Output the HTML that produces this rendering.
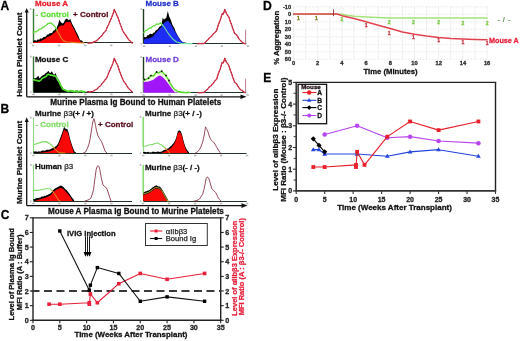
<!DOCTYPE html>
<html><head><meta charset="utf-8"><style>
html,body{margin:0;padding:0;background:#fff;}
body{width:520px;height:341px;overflow:hidden;}
svg{display:block;font-family:"Liberation Sans", sans-serif;will-change:transform;filter:blur(0.25px);}
</style></head><body>
<svg width="520" height="341" viewBox="0 0 520 341">
<rect width="520" height="341" fill="#fff"/>
<text x="0.60" y="9.80" font-size="12.00" fill="#000" font-weight="bold" text-anchor="start" stroke="#000" stroke-width="0.28" >A</text>
<line x1="26.70" y1="12.00" x2="26.70" y2="96.80" stroke="#111" stroke-width="1.30" />
<polygon points="26.7,8.00 24.7,12.60 28.7,12.60" fill="#111"/>
<line x1="26.70" y1="96.80" x2="241.50" y2="96.80" stroke="#111" stroke-width="1.30" />
<polygon points="246.50,96.80 240.50,94.50 240.50,99.10" fill="#111"/>
<text transform="translate(22.00,54.70) rotate(-90)" font-size="8.12" fill="#111" font-weight="bold" text-anchor="middle" stroke="#111" stroke-width="0.28" >Human Platelet Count</text>
<text x="135.75" y="104.70" font-size="8.17" fill="#111" font-weight="bold" text-anchor="middle" stroke="#111" stroke-width="0.28" >Murine Plasma Ig Bound to Human Platelets</text>
<line x1="33.50" y1="8.80" x2="33.50" y2="42.50" stroke="#3a7a34" stroke-width="1.40" />
<line x1="33.50" y1="42.50" x2="133.10" y2="42.50" stroke="#23352a" stroke-width="1.00" />
<rect x="32.00" y="44.60" width="2.4" height="1.6" fill="#b8b8b8"/>
<rect x="58.00" y="44.60" width="2.4" height="1.6" fill="#b8b8b8"/>
<rect x="84.00" y="44.60" width="2.4" height="1.6" fill="#b8b8b8"/>
<rect x="110.00" y="44.60" width="2.4" height="1.6" fill="#b8b8b8"/>
<rect x="29.80" y="8.20" width="1.6" height="1.6" fill="#b0b0b0"/>
<rect x="29.80" y="42.40" width="1.6" height="1.2" fill="#b0b0b0"/>
<polygon points="33.20,43.00 33.20,41.00 34.12,40.53 35.05,40.07 35.98,40.82 36.90,40.40 37.82,39.29 38.74,39.78 39.66,39.14 40.58,38.24 41.50,38.70 42.67,38.11 43.83,36.67 45.00,36.90 46.17,36.01 47.33,34.59 48.50,34.60 49.43,33.30 50.37,33.33 51.30,32.90 52.27,32.72 53.23,30.69 54.20,30.60 55.35,28.95 56.50,28.30 58.30,23.70 59.40,19.60 60.30,21.28 61.20,22.50 62.35,23.61 63.50,23.10 65.20,19.60 66.90,18.50 68.70,20.20 70.40,19.00 72.10,23.70 73.25,25.84 74.40,27.70 76.20,31.70 77.35,33.81 78.50,36.30 79.65,39.21 80.80,40.40 81.95,40.43 83.10,42.10 84.07,42.88 85.03,41.99 86.00,42.50 86.00,43.00" fill="#000" />
<polygon points="33.20,43.00 33.20,42.60 34.12,42.14 35.05,42.02 35.98,42.11 36.90,42.20 37.82,42.22 38.74,41.28 39.66,41.38 40.58,41.14 41.50,40.70 42.67,40.01 43.83,39.61 45.00,39.00 46.17,37.83 47.33,37.09 48.50,36.80 49.43,35.97 50.37,35.91 51.30,35.20 52.27,34.39 53.23,33.55 54.20,33.00 55.35,31.84 56.50,30.50 58.30,27.50 59.40,26.30 60.30,25.90 61.20,25.60 62.35,25.35 63.50,25.50 65.20,23.00 66.90,21.50 68.70,22.30 70.40,22.00 72.10,26.00 73.25,28.29 74.40,30.00 76.20,34.00 77.35,36.45 78.50,38.50 79.65,39.99 80.80,42.00 82.50,43.00 82.50,43.00" fill="#fa0808" />
<polyline points="33.20,32.20 34.12,32.03 35.05,31.69 35.98,31.90 36.90,31.10 38.07,30.65 39.23,29.27 40.40,28.80 41.53,28.87 42.67,27.07 43.80,27.00 44.97,25.95 46.13,25.49 47.30,24.20 48.27,23.31 49.23,23.38 50.20,23.00 51.35,22.95 52.50,24.20 54.20,25.90 56.00,28.20 57.20,30.50" fill="none" stroke="#62dd3a" stroke-width="1.30" stroke-linejoin="round" stroke-linecap="round" />
<polyline points="57.20,30.50 57.70,31.70 59.40,34.50 61.20,38.00 63.50,40.90 66.90,42.00 76.20,42.60 84.00,42.80" fill="none" stroke="#e0801e" stroke-width="1.20" stroke-linejoin="round" stroke-linecap="round" />
<polyline points="88.00,43.00 89.00,43.10 90.00,43.14 91.00,42.92 92.00,42.80 92.94,42.70 93.88,41.75 94.82,41.66 95.76,41.12 96.70,40.60 97.90,39.51 99.10,38.23 100.30,37.10 101.27,36.24 102.23,35.17 103.20,33.60 104.17,32.41 105.13,31.41 106.10,30.10 107.30,27.05 108.50,24.80 110.20,20.70 112.00,16.60 113.20,13.60 114.30,9.50 116.10,13.60 117.00,15.58 117.90,17.20 119.60,22.40 120.50,24.88 121.40,27.10 122.55,30.19 123.70,32.40 125.50,34.80 127.30,37.70 128.45,39.44 129.60,40.60 130.80,41.61 132.00,43.00" fill="none" stroke="#e03a4c" stroke-width="1.30" stroke-linejoin="round" stroke-linecap="round" />
<polyline points="88.00,43.00 89.00,43.10 90.00,43.14 91.00,42.92 92.00,42.80 92.94,42.70 93.88,41.75 94.82,41.66 95.76,41.12 96.70,40.60 97.90,39.51 99.10,38.23 100.30,37.10 101.27,36.24 102.23,35.17 103.20,33.60 104.17,32.41 105.13,31.41 106.10,30.10 107.30,27.05 108.50,24.80 110.20,20.70 112.00,16.60 113.20,13.60 114.30,9.50 116.10,13.60 117.00,15.58 117.90,17.20 119.60,22.40 120.50,24.88 121.40,27.10 122.55,30.19 123.70,32.40 125.50,34.80 127.30,37.70 128.45,39.44 129.60,40.60 130.80,41.61 132.00,43.00" fill="none" stroke="#a0203e" stroke-width="0.90" stroke-linejoin="round" stroke-linecap="round" stroke-dasharray="1,2.2"/>
<text x="35.00" y="6.40" font-size="8.00" fill="#e8202a" font-weight="bold" text-anchor="start" stroke="#e8202a" stroke-width="0.28" >Mouse A</text>
<text x="35.50" y="17.00" font-size="8.00" fill="#62dd3a" font-weight="bold" text-anchor="start" stroke="#62dd3a" stroke-width="0.28" >- Control</text>
<text x="73.10" y="17.00" font-size="8.00" fill="#5a0f1e" font-weight="bold" text-anchor="start" stroke="#5a0f1e" stroke-width="0.28" >+ Control</text>
<line x1="143.50" y1="9.00" x2="143.50" y2="43.50" stroke="#1e3e1e" stroke-width="1.40" />
<line x1="143.50" y1="43.50" x2="246.20" y2="43.50" stroke="#23352a" stroke-width="1.00" />
<rect x="142.70" y="45.40" width="2.4" height="1.6" fill="#b8b8b8"/>
<rect x="168.70" y="45.40" width="2.4" height="1.6" fill="#b8b8b8"/>
<rect x="194.70" y="45.40" width="2.4" height="1.6" fill="#b8b8b8"/>
<rect x="220.70" y="45.40" width="2.4" height="1.6" fill="#b8b8b8"/>
<rect x="246.70" y="45.40" width="2.4" height="1.6" fill="#b8b8b8"/>
<rect x="140.50" y="8.40" width="1.6" height="1.6" fill="#b0b0b0"/>
<rect x="140.50" y="43.20" width="1.6" height="1.2" fill="#b0b0b0"/>
<polygon points="143.90,43.80 143.90,37.60 144.83,37.06 145.77,37.24 146.70,36.60 147.67,35.04 148.65,35.13 149.62,33.90 150.60,33.80 152.20,34.30 153.35,32.76 154.50,32.60 155.60,30.46 156.70,29.90 157.80,29.23 158.90,27.60 160.05,26.13 161.20,26.00 162.80,17.60 163.90,19.80 165.05,18.55 166.20,18.20 167.80,10.90 169.20,16.50 170.20,18.55 171.20,21.00 172.30,24.42 173.40,26.50 174.50,28.25 175.60,31.50 176.75,33.66 177.90,36.00 179.00,37.74 180.10,39.30 181.03,40.92 181.97,41.74 182.90,42.10 183.88,43.03 184.85,42.25 185.83,42.77 186.80,43.20 187.87,43.01 188.93,43.80 190.00,43.40 190.00,43.80" fill="#000" />
<polygon points="143.90,43.80 143.90,39.20 144.90,39.54 145.90,38.61 146.90,38.52 147.90,38.45 148.90,38.60 149.80,37.89 150.70,37.70 151.60,37.37 152.50,36.60 153.40,36.40 154.50,34.44 155.60,33.39 156.70,32.00 157.80,30.74 158.90,29.80 160.00,28.60 160.93,27.75 161.87,26.19 162.80,24.70 163.90,23.32 165.00,21.90 165.93,21.65 166.87,21.34 167.80,20.80 168.73,21.29 169.67,23.07 170.60,23.60 171.53,25.55 172.47,27.31 173.40,28.60 174.50,30.93 175.60,32.56 176.70,34.70 177.63,36.10 178.57,37.30 179.50,39.20 180.43,40.27 181.37,40.63 182.30,42.00 183.40,42.37 184.50,43.60 184.50,43.80" fill="#1e2cf6" />
<polyline points="143.90,32.50 144.83,31.36 145.77,30.56 146.70,30.30 147.80,29.50 148.90,28.52 150.00,27.88 151.10,28.00 152.23,26.78 153.37,25.98 154.50,25.80 155.60,25.04 156.70,24.00 157.80,24.10 158.73,24.26 159.67,23.53 160.60,23.00 162.30,24.70" fill="none" stroke="#62dd3a" stroke-width="1.30" stroke-linejoin="round" stroke-linecap="round" />
<polyline points="162.30,24.70 164.50,27.50 167.30,32.00 170.10,35.80 172.90,39.20 176.70,42.00 181.20,43.40 192.00,43.60" fill="none" stroke="#6ee0a0" stroke-width="1.10" stroke-linejoin="round" stroke-linecap="round" />
<polyline points="198.00,43.80 198.90,43.47 199.80,43.54 200.70,43.61 201.60,43.61 202.50,43.38 203.40,43.70 204.36,43.17 205.32,42.46 206.28,41.15 207.24,40.33 208.20,39.50 209.10,38.23 210.00,37.34 210.90,36.66 211.80,35.90 213.05,34.19 214.30,32.90 215.50,32.00 216.70,30.50 217.60,27.20 218.50,24.50 219.40,21.92 220.30,20.20 222.10,13.60 223.30,14.20 224.80,9.40 226.50,13.60 227.60,15.51 228.70,16.60 229.60,19.33 230.50,22.00 231.70,25.03 232.90,28.70 234.70,33.50 235.60,34.14 236.50,34.70 237.70,36.37 238.90,38.90 240.10,40.13 241.30,41.30 242.50,42.63 243.70,43.10 245.20,43.80" fill="none" stroke="#e03a4c" stroke-width="1.30" stroke-linejoin="round" stroke-linecap="round" />
<polyline points="198.00,43.80 198.90,43.47 199.80,43.54 200.70,43.61 201.60,43.61 202.50,43.38 203.40,43.70 204.36,43.17 205.32,42.46 206.28,41.15 207.24,40.33 208.20,39.50 209.10,38.23 210.00,37.34 210.90,36.66 211.80,35.90 213.05,34.19 214.30,32.90 215.50,32.00 216.70,30.50 217.60,27.20 218.50,24.50 219.40,21.92 220.30,20.20 222.10,13.60 223.30,14.20 224.80,9.40 226.50,13.60 227.60,15.51 228.70,16.60 229.60,19.33 230.50,22.00 231.70,25.03 232.90,28.70 234.70,33.50 235.60,34.14 236.50,34.70 237.70,36.37 238.90,38.90 240.10,40.13 241.30,41.30 242.50,42.63 243.70,43.10 245.20,43.80" fill="none" stroke="#a0203e" stroke-width="0.90" stroke-linejoin="round" stroke-linecap="round" stroke-dasharray="1,2.2"/>
<line x1="245.60" y1="29.60" x2="245.60" y2="43.80" stroke="#b87080" stroke-width="0.90" />
<text x="145.50" y="6.40" font-size="8.00" fill="#2233cc" font-weight="bold" text-anchor="start" stroke="#2233cc" stroke-width="0.28" >Mouse B</text>
<line x1="33.50" y1="56.40" x2="33.50" y2="92.50" stroke="#3a7a34" stroke-width="1.40" />
<line x1="33.50" y1="92.50" x2="133.10" y2="92.50" stroke="#23352a" stroke-width="1.00" />
<rect x="32.20" y="93.60" width="2.4" height="1.6" fill="#b8b8b8"/>
<rect x="58.20" y="93.60" width="2.4" height="1.6" fill="#b8b8b8"/>
<rect x="84.20" y="93.60" width="2.4" height="1.6" fill="#b8b8b8"/>
<rect x="110.20" y="93.60" width="2.4" height="1.6" fill="#b8b8b8"/>
<rect x="30.00" y="55.80" width="1.6" height="1.6" fill="#b0b0b0"/>
<rect x="30.00" y="91.40" width="1.6" height="1.2" fill="#b0b0b0"/>
<polygon points="33.50,92.00 33.50,77.50 34.65,78.48 35.80,78.00 37.00,77.14 38.20,75.50 39.70,78.40 40.90,76.72 42.10,76.00 43.30,75.03 44.50,74.60 45.70,72.93 46.90,72.60 48.40,70.70 49.80,73.10 50.80,72.69 51.80,71.20 52.75,72.97 53.70,74.60 54.65,74.41 55.60,73.10 57.10,77.50 58.50,79.40 60.00,82.30 61.40,85.70 62.40,87.06 63.40,89.10 64.60,89.25 65.80,90.50 66.76,91.22 67.72,91.67 68.68,91.51 69.64,91.51 70.60,91.00 71.57,91.69 72.53,91.59 73.50,90.62 74.47,91.26 75.43,90.99 76.40,90.39 77.37,90.44 78.33,91.00 79.30,91.50 80.27,91.05 81.25,91.94 82.22,92.00 83.19,91.50 84.16,92.00 85.14,92.00 86.11,92.00 87.08,91.45 88.05,91.19 89.03,91.23 90.00,91.80 90.00,92.00" fill="#000" />
<polyline points="33.50,79.90 34.65,79.89 35.80,80.60 36.77,80.30 37.75,80.85 38.73,81.23 39.70,80.80 40.90,80.06 42.10,78.50 43.30,77.88 44.50,77.30 45.48,76.73 46.45,76.16 47.42,74.55 48.40,74.30 49.53,74.73 50.67,75.26 51.80,75.00 52.75,75.64 53.70,75.90 54.65,75.87 55.60,76.20 56.57,77.41 57.53,79.75 58.50,81.00 59.47,82.63 60.43,85.03 61.40,86.50 62.40,88.57 63.40,89.50 64.70,89.93 66.00,90.60 67.00,90.58 68.00,91.34 69.00,91.17 70.00,90.60 71.00,90.65 72.00,91.20 72.93,90.81 73.86,91.74 74.79,91.65 75.71,90.89 76.64,91.73 77.57,91.95 78.50,91.59 79.43,91.25 80.36,91.52 81.29,91.04 82.21,90.93 83.14,92.11 84.07,91.75 85.00,91.60" fill="none" stroke="#50e02c" stroke-width="1.60" stroke-linejoin="round" stroke-linecap="round" />
<polyline points="88.00,43.00 89.00,42.97 90.00,43.29 91.00,42.79 92.00,42.80 92.94,42.69 93.88,42.21 94.82,41.22 95.76,40.82 96.70,40.60 97.90,39.25 99.10,38.03 100.30,37.10 101.27,36.01 102.23,34.55 103.20,33.60 104.17,32.36 105.13,30.93 106.10,30.10 107.30,27.82 108.50,24.80 110.20,20.70 112.00,16.60 113.20,13.60 114.30,9.50 116.10,13.60 117.00,15.27 117.90,17.20 119.60,22.40 120.50,24.71 121.40,27.10 122.55,29.83 123.70,32.40 125.50,34.80 127.30,37.70 128.45,39.51 129.60,40.60 130.80,41.73 132.00,43.00" fill="none" stroke="#e03a4c" stroke-width="1.30" stroke-linejoin="round" stroke-linecap="round" transform="translate(0,48.8)"/>
<polyline points="88.00,43.00 89.00,42.97 90.00,43.29 91.00,42.79 92.00,42.80 92.94,42.69 93.88,42.21 94.82,41.22 95.76,40.82 96.70,40.60 97.90,39.25 99.10,38.03 100.30,37.10 101.27,36.01 102.23,34.55 103.20,33.60 104.17,32.36 105.13,30.93 106.10,30.10 107.30,27.82 108.50,24.80 110.20,20.70 112.00,16.60 113.20,13.60 114.30,9.50 116.10,13.60 117.00,15.27 117.90,17.20 119.60,22.40 120.50,24.71 121.40,27.10 122.55,29.83 123.70,32.40 125.50,34.80 127.30,37.70 128.45,39.51 129.60,40.60 130.80,41.73 132.00,43.00" fill="none" stroke="#a0203e" stroke-width="0.90" stroke-linejoin="round" stroke-linecap="round" stroke-dasharray="1,2.2" transform="translate(0,48.8)"/>
<text x="34.90" y="61.90" font-size="8.00" fill="#111" font-weight="bold" text-anchor="start" stroke="#111" stroke-width="0.28" >Mouse C</text>
<line x1="143.50" y1="57.00" x2="143.50" y2="92.50" stroke="#1e3e1e" stroke-width="1.40" />
<line x1="143.50" y1="92.50" x2="246.20" y2="92.50" stroke="#23352a" stroke-width="1.00" />
<rect x="142.40" y="94.30" width="2.4" height="1.6" fill="#b8b8b8"/>
<rect x="168.40" y="94.30" width="2.4" height="1.6" fill="#b8b8b8"/>
<rect x="194.40" y="94.30" width="2.4" height="1.6" fill="#b8b8b8"/>
<rect x="220.40" y="94.30" width="2.4" height="1.6" fill="#b8b8b8"/>
<rect x="246.40" y="94.30" width="2.4" height="1.6" fill="#b8b8b8"/>
<rect x="140.20" y="56.40" width="1.6" height="1.6" fill="#b0b0b0"/>
<rect x="140.20" y="92.10" width="1.6" height="1.2" fill="#b0b0b0"/>
<polygon points="143.60,92.70 143.60,79.90 148.50,78.60 151.00,75.60 153.60,76.00 156.60,72.20 159.10,72.70 161.70,71.40 163.80,73.50 166.00,75.60 168.90,80.70 171.50,85.40 174.00,88.80 177.40,91.40 181.00,92.20 190.00,92.50 190.00,92.70" fill="#f2fadc" />
<polygon points="143.60,92.70 143.60,82.00 148.50,81.60 152.80,79.90 158.30,76.00 160.00,75.60 162.60,76.90 165.50,79.90 168.90,84.60 172.30,89.30 174.90,92.20 178.00,92.60 178.00,92.70" fill="#a016f8" />
<polyline points="143.60,79.90 144.58,80.06 145.56,79.38 146.54,79.15 147.52,78.88 148.50,78.60 149.75,76.62 151.00,75.60 152.30,75.74 153.60,76.00 154.60,74.42 155.60,72.97 156.60,72.20 157.85,72.75 159.10,72.70 160.40,71.72 161.70,71.40 162.75,72.42 163.80,73.50 164.90,74.78 166.00,75.60 166.97,77.36 167.93,78.83 168.90,80.70 170.20,83.07 171.50,85.40 172.75,87.16 174.00,88.80 175.13,89.95 176.27,90.14 177.40,91.40 178.60,91.73 179.80,91.68 181.00,92.20 181.90,92.01 182.80,92.53 183.70,92.30 184.60,92.38 185.50,92.61 186.40,92.79 187.30,92.35 188.20,92.55 189.10,92.48 190.00,92.50" fill="none" stroke="#58d830" stroke-width="1.50" stroke-linejoin="round" stroke-linecap="round" />
<circle cx="144.50" cy="79.50" r="0.9" fill="#111"/>
<circle cx="148.50" cy="78.20" r="0.9" fill="#111"/>
<circle cx="151.00" cy="75.60" r="0.9" fill="#111"/>
<circle cx="156.60" cy="72.00" r="0.9" fill="#111"/>
<circle cx="161.70" cy="71.20" r="0.9" fill="#111"/>
<circle cx="166.00" cy="75.40" r="0.9" fill="#111"/>
<circle cx="169.00" cy="80.50" r="0.9" fill="#111"/>
<polyline points="198.00,92.70 198.90,92.68 199.80,92.81 200.70,92.56 201.60,92.60 202.50,92.51 203.40,92.50 204.36,92.06 205.32,91.00 206.28,90.32 207.24,89.54 208.20,88.30 209.10,87.18 210.00,86.55 210.90,86.00 211.80,84.70 213.05,83.51 214.30,81.70 215.50,80.17 216.70,79.30 217.60,75.96 218.50,73.30 219.40,71.10 220.30,69.00 222.10,62.40 223.30,63.00 224.80,58.20 226.50,62.40 227.60,63.52 228.70,65.40 229.60,67.87 230.50,70.80 231.70,73.77 232.90,77.50 234.70,82.30 235.60,83.05 236.50,83.50 237.70,85.86 238.90,87.70 240.10,89.26 241.30,90.10 242.50,90.69 243.70,91.90 245.20,92.60" fill="none" stroke="#e03a4c" stroke-width="1.30" stroke-linejoin="round" stroke-linecap="round" />
<polyline points="198.00,92.70 198.90,92.68 199.80,92.81 200.70,92.56 201.60,92.60 202.50,92.51 203.40,92.50 204.36,92.06 205.32,91.00 206.28,90.32 207.24,89.54 208.20,88.30 209.10,87.18 210.00,86.55 210.90,86.00 211.80,84.70 213.05,83.51 214.30,81.70 215.50,80.17 216.70,79.30 217.60,75.96 218.50,73.30 219.40,71.10 220.30,69.00 222.10,62.40 223.30,63.00 224.80,58.20 226.50,62.40 227.60,63.52 228.70,65.40 229.60,67.87 230.50,70.80 231.70,73.77 232.90,77.50 234.70,82.30 235.60,83.05 236.50,83.50 237.70,85.86 238.90,87.70 240.10,89.26 241.30,90.10 242.50,90.69 243.70,91.90 245.20,92.60" fill="none" stroke="#a0203e" stroke-width="0.90" stroke-linejoin="round" stroke-linecap="round" stroke-dasharray="1,2.2"/>
<line x1="245.60" y1="78.70" x2="245.60" y2="92.70" stroke="#b87080" stroke-width="0.90" />
<text x="145.50" y="61.90" font-size="8.00" fill="#6f3fd8" font-weight="bold" text-anchor="start" stroke="#6f3fd8" stroke-width="0.28" >Mouse D</text>
<text x="0.60" y="112.70" font-size="12.00" fill="#000" font-weight="bold" text-anchor="start" stroke="#000" stroke-width="0.28" >B</text>
<line x1="26.70" y1="121.30" x2="26.70" y2="205.60" stroke="#111" stroke-width="1.30" />
<polygon points="26.7,117.30 24.7,121.90 28.7,121.90" fill="#111"/>
<line x1="26.70" y1="205.60" x2="242.50" y2="205.60" stroke="#111" stroke-width="1.30" />
<polygon points="247.50,205.60 241.50,203.30 241.50,207.90" fill="#111"/>
<text transform="translate(22.00,162.50) rotate(-90)" font-size="8.10" fill="#111" font-weight="bold" text-anchor="middle" stroke="#111" stroke-width="0.28" >Murine Platelet Count</text>
<text x="135.90" y="213.70" font-size="8.15" fill="#111" font-weight="bold" text-anchor="middle" stroke="#111" stroke-width="0.28" >Mouse A Plasma Ig Bound to Murine Platelets</text>
<line x1="33.50" y1="117.40" x2="33.50" y2="153.50" stroke="#92d688" stroke-width="1.15" />
<line x1="33.50" y1="153.50" x2="132.00" y2="153.50" stroke="#23352a" stroke-width="1.00" />
<rect x="32.20" y="154.70" width="2.4" height="1.6" fill="#b8b8b8"/>
<rect x="58.20" y="154.70" width="2.4" height="1.6" fill="#b8b8b8"/>
<rect x="84.20" y="154.70" width="2.4" height="1.6" fill="#b8b8b8"/>
<rect x="110.20" y="154.70" width="2.4" height="1.6" fill="#b8b8b8"/>
<rect x="30.00" y="116.80" width="1.6" height="1.6" fill="#b0b0b0"/>
<rect x="30.00" y="152.50" width="1.6" height="1.2" fill="#b0b0b0"/>
<polygon points="33.40,153.10 33.40,151.40 34.30,151.59 35.20,151.56 36.10,151.16 37.00,151.76 37.90,151.85 38.80,151.26 39.70,151.50 40.67,151.53 41.63,150.75 42.60,150.50 43.56,150.38 44.51,150.66 45.47,150.42 46.43,149.77 47.39,149.87 48.34,149.83 49.30,149.70 50.27,149.17 51.25,148.66 52.23,148.35 53.20,148.10 54.17,147.64 55.13,146.45 56.10,146.20 57.05,144.99 58.00,143.70 59.50,139.90 61.00,136.00 62.40,132.10 63.80,127.80 64.80,127.30 65.80,129.20 67.20,128.80 68.70,133.10 70.10,138.90 71.60,143.70 73.00,148.10 74.50,151.50 76.00,152.50 76.00,153.10" fill="#000" />
<polygon points="38.00,153.10 38.00,153.00 42.60,152.40 49.30,151.60 53.20,150.10 56.10,148.30 58.00,146.00 59.50,142.30 61.00,138.40 62.40,134.50 63.80,130.30 64.80,129.80 65.80,131.50 67.20,131.20 68.70,135.30 70.10,141.00 71.60,145.80 73.00,150.00 74.00,153.00 74.00,153.10" fill="#fa0808" />
<polyline points="33.40,144.80 37.70,143.40 42.60,141.90 46.00,141.60 49.30,143.40 52.20,145.80 53.70,147.70" fill="none" stroke="#86dc6a" stroke-width="1.20" stroke-linejoin="round" stroke-linecap="round" />
<polyline points="53.70,147.70 56.10,150.10 59.00,152.60 65.00,153.00" fill="none" stroke="#e0801e" stroke-width="1.10" stroke-linejoin="round" stroke-linecap="round" />
<polyline points="83.40,153.00 85.50,152.00 87.40,148.40 89.00,144.00 90.10,139.00 91.20,132.00 92.20,125.50 93.00,121.00 93.90,118.70 94.70,121.00 95.50,125.50 96.50,130.50 97.60,135.00 99.50,138.50 101.60,141.70 103.30,146.00 105.00,151.10 107.00,153.00" fill="none" stroke="#8a3848" stroke-width="0.90" stroke-linejoin="round" stroke-linecap="round" />
<text x="35.10" y="115.90" font-size="8" font-weight="bold" fill="#111" stroke="#111" stroke-width="0.28">Murine <tspan font-weight="normal" fill="#333" stroke="#333" stroke-width="0.3">β3</tspan>(+ / +)</text>
<text x="35.40" y="126.80" font-size="8.00" fill="#86dc6a" font-weight="bold" text-anchor="start" stroke="#86dc6a" stroke-width="0.28" >- Control</text>
<text x="98.00" y="127.40" font-size="8.00" fill="#5a0f1e" font-weight="bold" text-anchor="start" stroke="#5a0f1e" stroke-width="0.28" >+ Control</text>
<line x1="143.50" y1="116.70" x2="143.50" y2="153.50" stroke="#92d688" stroke-width="1.15" />
<line x1="143.50" y1="153.50" x2="246.60" y2="153.50" stroke="#23352a" stroke-width="1.00" />
<rect x="141.90" y="154.70" width="2.4" height="1.6" fill="#b8b8b8"/>
<rect x="167.90" y="154.70" width="2.4" height="1.6" fill="#b8b8b8"/>
<rect x="193.90" y="154.70" width="2.4" height="1.6" fill="#b8b8b8"/>
<rect x="219.90" y="154.70" width="2.4" height="1.6" fill="#b8b8b8"/>
<rect x="245.90" y="154.70" width="2.4" height="1.6" fill="#b8b8b8"/>
<rect x="139.70" y="116.10" width="1.6" height="1.6" fill="#b0b0b0"/>
<rect x="139.70" y="152.50" width="1.6" height="1.2" fill="#b0b0b0"/>
<polygon points="143.10,153.10 143.10,152.10 144.02,152.04 144.93,151.70 145.85,151.94 146.76,152.17 147.68,152.07 148.59,151.71 149.51,152.43 150.42,152.27 151.34,152.41 152.25,151.71 153.17,151.83 154.08,151.64 155.00,152.00 156.00,152.16 157.00,151.68 158.00,151.50 159.00,151.67 160.00,152.00 161.00,151.60 162.00,151.41 163.00,150.51 164.00,149.97 165.00,149.80 166.00,149.61 167.00,148.81 168.00,148.39 169.00,147.70 170.25,146.42 171.50,145.80 172.60,144.05 173.70,143.00 175.20,140.30 176.40,136.90 177.80,131.50 179.10,130.20 180.20,130.80 181.20,132.20 182.20,135.30 183.20,139.60 184.20,143.30 185.20,146.30 186.50,149.10 187.90,151.10 189.00,152.30 189.00,153.10" fill="#000" />
<polygon points="143.10,153.10 143.10,153.10 155.00,153.10 161.00,153.10 165.00,151.60 169.00,149.50 171.50,147.60 173.70,144.80 175.20,142.10 176.40,138.70 177.80,133.30 179.10,132.00 180.20,132.60 181.20,134.00 182.20,137.10 183.20,141.40 184.20,145.10 185.20,148.10 186.50,150.90 187.90,152.90 189.00,153.10 189.00,153.10" fill="#fa0808" />
<line x1="143.10" y1="116.90" x2="143.10" y2="146.40" stroke="#86dc6a" stroke-width="1.30" />
<polyline points="143.10,146.40 146.00,146.00 149.00,145.00 152.80,144.40 155.00,143.50 157.60,143.00 159.50,144.00 161.60,145.00 163.50,146.50 165.60,148.40" fill="none" stroke="#86dc6a" stroke-width="1.20" stroke-linejoin="round" stroke-linecap="round" />
<polyline points="165.60,148.40 167.50,150.50 169.70,153.00" fill="none" stroke="#e0801e" stroke-width="1.10" stroke-linejoin="round" stroke-linecap="round" />
<polyline points="195.40,153.00 197.50,151.80 199.40,149.80 201.00,146.50 202.80,141.70 204.20,135.00 205.00,130.00 205.50,126.80 206.20,128.50 206.90,129.50 208.00,132.00 208.90,135.00 210.00,138.00 210.90,139.60 212.50,141.20 214.30,143.00 215.70,145.50 217.00,147.70 218.70,150.50 220.30,153.00" fill="none" stroke="#8a3848" stroke-width="0.90" stroke-linejoin="round" stroke-linecap="round" />
<text x="145.10" y="115.90" font-size="8" font-weight="bold" fill="#111" stroke="#111" stroke-width="0.28">Murine <tspan font-weight="normal" fill="#333" stroke="#333" stroke-width="0.3">β3</tspan>(+ / -)</text>
<line x1="33.50" y1="164.70" x2="33.50" y2="201.50" stroke="#92d688" stroke-width="1.15" />
<line x1="33.50" y1="201.50" x2="132.00" y2="201.50" stroke="#23352a" stroke-width="1.00" />
<rect x="32.20" y="202.70" width="2.4" height="1.6" fill="#b8b8b8"/>
<rect x="58.20" y="202.70" width="2.4" height="1.6" fill="#b8b8b8"/>
<rect x="84.20" y="202.70" width="2.4" height="1.6" fill="#b8b8b8"/>
<rect x="110.20" y="202.70" width="2.4" height="1.6" fill="#b8b8b8"/>
<rect x="30.00" y="164.10" width="1.6" height="1.6" fill="#b0b0b0"/>
<rect x="30.00" y="200.50" width="1.6" height="1.2" fill="#b0b0b0"/>
<polygon points="33.50,201.10 33.50,199.00 34.55,198.90 35.60,198.44 36.65,197.91 37.70,198.00 38.66,198.07 39.62,197.55 40.58,197.40 41.54,196.55 42.50,196.60 43.46,196.58 44.42,195.65 45.38,195.99 46.34,195.36 47.30,195.10 48.43,194.34 49.57,193.88 50.70,193.20 51.90,192.09 53.10,190.30 54.07,189.31 55.03,188.40 56.00,187.90 57.20,187.32 58.40,186.70 59.60,185.89 60.80,185.50 61.75,185.69 62.70,186.50 63.90,187.43 65.10,188.90 66.30,189.74 67.50,191.30 68.70,192.71 69.90,194.60 71.10,196.15 72.30,198.00 73.25,199.04 74.20,200.40 74.20,201.10" fill="#000" />
<polygon points="34.50,201.10 34.50,201.00 37.70,200.00 42.50,198.60 47.30,197.10 50.70,195.20 53.10,192.40 56.00,190.00 58.40,188.80 60.80,187.70 62.70,188.60 65.10,191.00 67.50,193.40 69.90,196.60 72.00,200.00 72.80,201.00 72.80,201.10" fill="#fa0808" />
<polyline points="33.50,190.40 37.70,190.40 42.50,189.50 47.30,188.50 50.20,189.00 52.10,190.40" fill="none" stroke="#86dc6a" stroke-width="1.20" stroke-linejoin="round" stroke-linecap="round" />
<polyline points="52.10,190.40 54.50,193.80 56.40,196.70 58.80,200.50 60.00,201.00" fill="none" stroke="#e0801e" stroke-width="1.10" stroke-linejoin="round" stroke-linecap="round" />
<polyline points="84.70,201.10 88.00,200.00 90.80,198.40 92.00,195.00 93.50,189.70 94.90,178.90 96.20,169.40 97.20,166.50 98.20,165.70 99.00,166.80 99.80,169.40 101.20,177.50 103.00,185.00 104.30,186.30 105.60,187.00 107.00,189.00 108.00,192.00 109.00,195.00 110.00,198.00 111.00,201.10" fill="none" stroke="#8a3848" stroke-width="0.90" stroke-linejoin="round" stroke-linecap="round" />
<text x="34.90" y="169.40" font-size="8" font-weight="bold" fill="#111" stroke="#111" stroke-width="0.28">Human <tspan font-weight="normal" fill="#333" stroke="#333" stroke-width="0.3">β3</tspan></text>
<line x1="143.50" y1="164.70" x2="143.50" y2="201.50" stroke="#92d688" stroke-width="1.15" />
<line x1="143.50" y1="201.50" x2="246.60" y2="201.50" stroke="#23352a" stroke-width="1.00" />
<rect x="141.90" y="202.70" width="2.4" height="1.6" fill="#b8b8b8"/>
<rect x="167.90" y="202.70" width="2.4" height="1.6" fill="#b8b8b8"/>
<rect x="193.90" y="202.70" width="2.4" height="1.6" fill="#b8b8b8"/>
<rect x="219.90" y="202.70" width="2.4" height="1.6" fill="#b8b8b8"/>
<rect x="245.90" y="202.70" width="2.4" height="1.6" fill="#b8b8b8"/>
<rect x="139.70" y="164.10" width="1.6" height="1.6" fill="#b0b0b0"/>
<rect x="139.70" y="200.50" width="1.6" height="1.2" fill="#b0b0b0"/>
<polygon points="143.10,201.10 143.10,192.40 144.07,192.33 145.03,191.52 146.00,191.40 146.93,191.07 147.87,190.41 148.80,190.40 149.90,189.50 151.00,188.90 152.25,187.47 153.50,187.00 154.50,186.10 155.50,185.70 156.50,185.32 157.50,185.90 158.55,186.38 159.60,186.40 160.60,187.45 161.60,188.40 163.30,191.40 165.00,194.40 166.70,197.40 168.30,200.40 168.30,201.10" fill="#000" />
<polygon points="143.10,201.10 143.10,195.20 146.00,194.20 148.80,193.20 151.00,191.70 153.50,189.80 155.50,188.50 157.50,188.70 159.60,189.20 161.60,191.20 163.30,194.20 165.00,197.20 166.70,200.20 168.30,201.10 168.30,201.10" fill="#fa0808" />
<line x1="143.10" y1="164.90" x2="143.10" y2="193.00" stroke="#86dc6a" stroke-width="1.30" />
<polyline points="143.10,193.00 146.00,192.00 148.80,191.00 151.00,189.50 153.50,187.60 155.50,186.30 157.50,186.50 159.60,187.00 161.60,189.00 163.30,192.00 165.00,195.00 166.70,198.00 168.30,201.00" fill="none" stroke="#b8c030" stroke-width="0.90" stroke-linejoin="round" stroke-linecap="round" transform="translate(0,1.2)"/>
<polyline points="194.00,201.10 197.00,200.50 199.40,199.10 201.20,196.50 202.80,193.70 204.00,189.50 204.80,185.60 206.20,178.20 207.30,176.90 208.10,177.50 208.90,178.90 210.20,182.90 211.60,188.30 213.50,190.50 215.60,192.40 217.00,195.00 218.30,197.80 219.50,199.50 221.00,201.10" fill="none" stroke="#8a3848" stroke-width="0.90" stroke-linejoin="round" stroke-linecap="round" />
<text x="144.90" y="169.60" font-size="8" font-weight="bold" fill="#111" stroke="#111" stroke-width="0.28">Murine <tspan font-weight="normal" fill="#333" stroke="#333" stroke-width="0.3">β3</tspan>(- / -)</text>
<text x="0.80" y="219.00" font-size="12.00" fill="#000" font-weight="bold" text-anchor="start" stroke="#000" stroke-width="0.28" >C</text>
<line x1="33.00" y1="217.80" x2="220.70" y2="217.80" stroke="#222" stroke-width="1.30" />
<line x1="33.00" y1="217.20" x2="33.00" y2="320.90" stroke="#222" stroke-width="1.40" />
<line x1="220.70" y1="217.20" x2="220.70" y2="320.90" stroke="#222" stroke-width="1.40" />
<line x1="32.40" y1="320.30" x2="221.30" y2="320.30" stroke="#222" stroke-width="1.40" />
<line x1="29.80" y1="320.30" x2="33.00" y2="320.30" stroke="#222" stroke-width="1.10" />
<line x1="220.70" y1="320.30" x2="223.70" y2="320.30" stroke="#222" stroke-width="1.10" />
<text x="28.70" y="322.90" font-size="7.20" fill="#222" font-weight="bold" text-anchor="end" stroke="#222" stroke-width="0.28" >0</text>
<text x="225.30" y="322.90" font-size="7.20" fill="#222" font-weight="bold" text-anchor="start" stroke="#222" stroke-width="0.28" >0</text>
<line x1="29.80" y1="305.66" x2="33.00" y2="305.66" stroke="#222" stroke-width="1.10" />
<line x1="220.70" y1="305.66" x2="223.70" y2="305.66" stroke="#222" stroke-width="1.10" />
<text x="28.70" y="308.26" font-size="7.20" fill="#222" font-weight="bold" text-anchor="end" stroke="#222" stroke-width="0.28" >1</text>
<text x="225.30" y="308.26" font-size="7.20" fill="#222" font-weight="bold" text-anchor="start" stroke="#222" stroke-width="0.28" >1</text>
<line x1="29.80" y1="291.01" x2="33.00" y2="291.01" stroke="#222" stroke-width="1.10" />
<line x1="220.70" y1="291.01" x2="223.70" y2="291.01" stroke="#222" stroke-width="1.10" />
<text x="28.70" y="293.61" font-size="7.20" fill="#222" font-weight="bold" text-anchor="end" stroke="#222" stroke-width="0.28" >2</text>
<text x="225.30" y="293.61" font-size="7.20" fill="#222" font-weight="bold" text-anchor="start" stroke="#222" stroke-width="0.28" >2</text>
<line x1="29.80" y1="276.37" x2="33.00" y2="276.37" stroke="#222" stroke-width="1.10" />
<line x1="220.70" y1="276.37" x2="223.70" y2="276.37" stroke="#222" stroke-width="1.10" />
<text x="28.70" y="278.97" font-size="7.20" fill="#222" font-weight="bold" text-anchor="end" stroke="#222" stroke-width="0.28" >3</text>
<text x="225.30" y="278.97" font-size="7.20" fill="#222" font-weight="bold" text-anchor="start" stroke="#222" stroke-width="0.28" >3</text>
<line x1="29.80" y1="261.73" x2="33.00" y2="261.73" stroke="#222" stroke-width="1.10" />
<line x1="220.70" y1="261.73" x2="223.70" y2="261.73" stroke="#222" stroke-width="1.10" />
<text x="28.70" y="264.33" font-size="7.20" fill="#222" font-weight="bold" text-anchor="end" stroke="#222" stroke-width="0.28" >4</text>
<text x="225.30" y="264.33" font-size="7.20" fill="#222" font-weight="bold" text-anchor="start" stroke="#222" stroke-width="0.28" >4</text>
<line x1="29.80" y1="247.09" x2="33.00" y2="247.09" stroke="#222" stroke-width="1.10" />
<line x1="220.70" y1="247.09" x2="223.70" y2="247.09" stroke="#222" stroke-width="1.10" />
<text x="28.70" y="249.69" font-size="7.20" fill="#222" font-weight="bold" text-anchor="end" stroke="#222" stroke-width="0.28" >5</text>
<text x="225.30" y="249.69" font-size="7.20" fill="#222" font-weight="bold" text-anchor="start" stroke="#222" stroke-width="0.28" >5</text>
<line x1="29.80" y1="232.44" x2="33.00" y2="232.44" stroke="#222" stroke-width="1.10" />
<line x1="220.70" y1="232.44" x2="223.70" y2="232.44" stroke="#222" stroke-width="1.10" />
<text x="28.70" y="235.04" font-size="7.20" fill="#222" font-weight="bold" text-anchor="end" stroke="#222" stroke-width="0.28" >6</text>
<text x="225.30" y="235.04" font-size="7.20" fill="#222" font-weight="bold" text-anchor="start" stroke="#222" stroke-width="0.28" >6</text>
<line x1="29.80" y1="217.80" x2="33.00" y2="217.80" stroke="#222" stroke-width="1.10" />
<line x1="220.70" y1="217.80" x2="223.70" y2="217.80" stroke="#222" stroke-width="1.10" />
<text x="28.70" y="220.40" font-size="7.20" fill="#222" font-weight="bold" text-anchor="end" stroke="#222" stroke-width="0.28" >7</text>
<text x="225.30" y="220.40" font-size="7.20" fill="#222" font-weight="bold" text-anchor="start" stroke="#222" stroke-width="0.28" >7</text>
<line x1="33.00" y1="320.30" x2="33.00" y2="323.30" stroke="#222" stroke-width="1.10" />
<text x="33.00" y="329.60" font-size="7.20" fill="#222" font-weight="bold" text-anchor="middle" stroke="#222" stroke-width="0.28" >0</text>
<line x1="59.81" y1="320.30" x2="59.81" y2="323.30" stroke="#222" stroke-width="1.10" />
<text x="59.81" y="329.60" font-size="7.20" fill="#222" font-weight="bold" text-anchor="middle" stroke="#222" stroke-width="0.28" >5</text>
<line x1="86.63" y1="320.30" x2="86.63" y2="323.30" stroke="#222" stroke-width="1.10" />
<text x="86.63" y="329.60" font-size="7.20" fill="#222" font-weight="bold" text-anchor="middle" stroke="#222" stroke-width="0.28" >10</text>
<line x1="113.44" y1="320.30" x2="113.44" y2="323.30" stroke="#222" stroke-width="1.10" />
<text x="113.44" y="329.60" font-size="7.20" fill="#222" font-weight="bold" text-anchor="middle" stroke="#222" stroke-width="0.28" >15</text>
<line x1="140.26" y1="320.30" x2="140.26" y2="323.30" stroke="#222" stroke-width="1.10" />
<text x="140.26" y="329.60" font-size="7.20" fill="#222" font-weight="bold" text-anchor="middle" stroke="#222" stroke-width="0.28" >20</text>
<line x1="167.07" y1="320.30" x2="167.07" y2="323.30" stroke="#222" stroke-width="1.10" />
<text x="167.07" y="329.60" font-size="7.20" fill="#222" font-weight="bold" text-anchor="middle" stroke="#222" stroke-width="0.28" >25</text>
<line x1="193.89" y1="320.30" x2="193.89" y2="323.30" stroke="#222" stroke-width="1.10" />
<text x="193.89" y="329.60" font-size="7.20" fill="#222" font-weight="bold" text-anchor="middle" stroke="#222" stroke-width="0.28" >30</text>
<line x1="220.70" y1="320.30" x2="220.70" y2="323.30" stroke="#222" stroke-width="1.10" />
<text x="220.70" y="329.60" font-size="7.20" fill="#222" font-weight="bold" text-anchor="middle" stroke="#222" stroke-width="0.28" >35</text>
<text x="131.00" y="337.30" font-size="7.90" fill="#111" font-weight="bold" text-anchor="middle" stroke="#111" stroke-width="0.28" >Time (Weeks After Transplant)</text>
<text transform="translate(13.80,274.30) rotate(-90)" font-size="7.60" fill="#111" font-weight="bold" text-anchor="middle" stroke="#111" stroke-width="0.28" >Level of Plasma Ig Bound</text>
<text transform="translate(22.00,272.30) rotate(-90)" font-size="7.60" fill="#111" font-weight="bold" text-anchor="middle" stroke="#111" stroke-width="0.28" >MFI Ratio (A : Buffer)</text>
<text transform="translate(236.80,268.20) rotate(-90)" font-size="7.50" fill="#e8203a" font-weight="bold" text-anchor="middle" stroke="#e8203a" stroke-width="0.28" >Level of αIIbβ3 Expression</text>
<text transform="translate(244.00,266.70) rotate(-90)" font-size="7.50" fill="#e8203a" font-weight="bold" text-anchor="middle" stroke="#e8203a" stroke-width="0.28" >MFI Ratio (A : β3-/- Control)</text>
<line x1="31.5" y1="291.01" x2="220.70" y2="291.01" stroke="#3a3a3a" stroke-width="1.8" stroke-dasharray="8,4.5"/>
<text x="67.00" y="235.80" font-size="7.60" fill="#111" font-weight="bold" text-anchor="start" stroke="#111" stroke-width="0.28" >IVIG Injection</text>
<line x1="85.50" y1="236.30" x2="85.50" y2="253.00" stroke="#1a1a1a" stroke-width="1.00" />
<line x1="87.50" y1="236.30" x2="87.50" y2="253.00" stroke="#1a1a1a" stroke-width="1.00" />
<line x1="89.50" y1="236.30" x2="89.50" y2="253.00" stroke="#1a1a1a" stroke-width="1.00" />
<polygon points="83.50,252 87.50,252 85.50,256.8" fill="#000"/>
<polygon points="85.50,252 89.50,252 87.50,256.8" fill="#000"/>
<polygon points="87.50,252 91.50,252 89.50,256.8" fill="#000"/>
<polyline points="49.09,304.19 59.81,304.19 89.31,302.73 89.31,304.19 90.38,293.94 97.35,302.73 118.81,283.69 140.26,273.44 167.07,279.30 204.61,273.44" fill="none" stroke="#e8203a" stroke-width="1.10" stroke-linejoin="round" stroke-linecap="round" />
<rect x="47.29" y="302.39" width="3.6" height="3.6" fill="#e8203a"/>
<rect x="58.01" y="302.39" width="3.6" height="3.6" fill="#e8203a"/>
<rect x="87.51" y="300.93" width="3.6" height="3.6" fill="#e8203a"/>
<rect x="87.51" y="302.39" width="3.6" height="3.6" fill="#e8203a"/>
<rect x="88.58" y="292.14" width="3.6" height="3.6" fill="#e8203a"/>
<rect x="95.55" y="300.93" width="3.6" height="3.6" fill="#e8203a"/>
<rect x="117.01" y="281.89" width="3.6" height="3.6" fill="#e8203a"/>
<rect x="138.46" y="271.64" width="3.6" height="3.6" fill="#e8203a"/>
<rect x="165.27" y="277.50" width="3.6" height="3.6" fill="#e8203a"/>
<rect x="202.81" y="271.64" width="3.6" height="3.6" fill="#e8203a"/>
<polyline points="59.81,230.98 89.31,290.28 90.38,285.16 97.35,267.59 118.81,273.44 140.26,301.26 167.07,296.87 204.61,301.26" fill="none" stroke="#111" stroke-width="1.10" stroke-linejoin="round" stroke-linecap="round" />
<rect x="58.11" y="229.28" width="3.4" height="3.4" fill="#000"/>
<rect x="87.61" y="288.58" width="3.4" height="3.4" fill="#000"/>
<rect x="88.68" y="283.46" width="3.4" height="3.4" fill="#000"/>
<rect x="95.65" y="265.89" width="3.4" height="3.4" fill="#000"/>
<rect x="117.11" y="271.74" width="3.4" height="3.4" fill="#000"/>
<rect x="138.56" y="299.56" width="3.4" height="3.4" fill="#000"/>
<rect x="165.37" y="295.17" width="3.4" height="3.4" fill="#000"/>
<rect x="202.91" y="299.56" width="3.4" height="3.4" fill="#000"/>
<rect x="145.5" y="223.5" width="61.8" height="22" fill="#fff" stroke="#333" stroke-width="1"/>
<line x1="150.10" y1="231.00" x2="162.20" y2="231.00" stroke="#e8203a" stroke-width="1.10" />
<rect x="154.6" y="229.5" width="3" height="3" fill="#e8203a"/>
<line x1="150.10" y1="238.50" x2="162.20" y2="238.50" stroke="#111" stroke-width="1.10" />
<rect x="154.6" y="237.0" width="3" height="3" fill="#000"/>
<text x="165.80" y="233.60" font-size="7.60" fill="#222" font-weight="normal" text-anchor="start" stroke="#222" stroke-width="0.25" >αIIbβ3</text>
<text x="165.80" y="240.60" font-size="7.60" fill="#222" font-weight="normal" text-anchor="start" stroke="#222" stroke-width="0.25" >Bound Ig</text>
<text x="262.90" y="9.60" font-size="12.20" fill="#000" font-weight="bold" text-anchor="start" stroke="#000" stroke-width="0.28" >D</text>
<line x1="293.50" y1="6.80" x2="293.50" y2="59.30" stroke="#e6e6e0" stroke-width="0.80" stroke-dasharray="2.5,0.8"/>
<line x1="305.60" y1="6.80" x2="305.60" y2="59.30" stroke="#e6e6e0" stroke-width="0.80" stroke-dasharray="2.5,0.8"/>
<line x1="317.70" y1="6.80" x2="317.70" y2="59.30" stroke="#e6e6e0" stroke-width="0.80" stroke-dasharray="2.5,0.8"/>
<line x1="329.80" y1="6.80" x2="329.80" y2="59.30" stroke="#e6e6e0" stroke-width="0.80" stroke-dasharray="2.5,0.8"/>
<line x1="341.90" y1="6.80" x2="341.90" y2="59.30" stroke="#e6e6e0" stroke-width="0.80" stroke-dasharray="2.5,0.8"/>
<line x1="354.00" y1="6.80" x2="354.00" y2="59.30" stroke="#e6e6e0" stroke-width="0.80" stroke-dasharray="2.5,0.8"/>
<line x1="366.10" y1="6.80" x2="366.10" y2="59.30" stroke="#e6e6e0" stroke-width="0.80" stroke-dasharray="2.5,0.8"/>
<line x1="378.20" y1="6.80" x2="378.20" y2="59.30" stroke="#e6e6e0" stroke-width="0.80" stroke-dasharray="2.5,0.8"/>
<line x1="390.30" y1="6.80" x2="390.30" y2="59.30" stroke="#e6e6e0" stroke-width="0.80" stroke-dasharray="2.5,0.8"/>
<line x1="402.40" y1="6.80" x2="402.40" y2="59.30" stroke="#e6e6e0" stroke-width="0.80" stroke-dasharray="2.5,0.8"/>
<line x1="414.50" y1="6.80" x2="414.50" y2="59.30" stroke="#e6e6e0" stroke-width="0.80" stroke-dasharray="2.5,0.8"/>
<line x1="426.60" y1="6.80" x2="426.60" y2="59.30" stroke="#e6e6e0" stroke-width="0.80" stroke-dasharray="2.5,0.8"/>
<line x1="438.70" y1="6.80" x2="438.70" y2="59.30" stroke="#e6e6e0" stroke-width="0.80" stroke-dasharray="2.5,0.8"/>
<line x1="450.80" y1="6.80" x2="450.80" y2="59.30" stroke="#e6e6e0" stroke-width="0.80" stroke-dasharray="2.5,0.8"/>
<line x1="462.90" y1="6.80" x2="462.90" y2="59.30" stroke="#e6e6e0" stroke-width="0.80" stroke-dasharray="2.5,0.8"/>
<line x1="475.00" y1="6.80" x2="475.00" y2="59.30" stroke="#e6e6e0" stroke-width="0.80" stroke-dasharray="2.5,0.8"/>
<line x1="487.10" y1="6.80" x2="487.10" y2="59.30" stroke="#e6e6e0" stroke-width="0.80" stroke-dasharray="2.5,0.8"/>
<line x1="293.50" y1="6.80" x2="487.10" y2="6.80" stroke="#e8e2e2" stroke-width="0.80" stroke-dasharray="1.6,1.4"/>
<line x1="293.50" y1="14.30" x2="487.10" y2="14.30" stroke="#e8e2e2" stroke-width="0.80" stroke-dasharray="1.6,1.4"/>
<line x1="293.50" y1="21.80" x2="487.10" y2="21.80" stroke="#e8e2e2" stroke-width="0.80" stroke-dasharray="1.6,1.4"/>
<line x1="293.50" y1="29.30" x2="487.10" y2="29.30" stroke="#e8e2e2" stroke-width="0.80" stroke-dasharray="1.6,1.4"/>
<line x1="293.50" y1="36.80" x2="487.10" y2="36.80" stroke="#e8e2e2" stroke-width="0.80" stroke-dasharray="1.6,1.4"/>
<line x1="293.50" y1="44.30" x2="487.10" y2="44.30" stroke="#e8e2e2" stroke-width="0.80" stroke-dasharray="1.6,1.4"/>
<line x1="293.50" y1="51.80" x2="487.10" y2="51.80" stroke="#e8e2e2" stroke-width="0.80" stroke-dasharray="1.6,1.4"/>
<line x1="293.50" y1="59.30" x2="487.10" y2="59.30" stroke="#e8e2e2" stroke-width="0.80" stroke-dasharray="1.6,1.4"/>
<text x="291.20" y="8.80" font-size="5.70" fill="#333" font-weight="bold" text-anchor="end" stroke="#333" stroke-width="0.35" >-10</text>
<text x="291.20" y="16.30" font-size="5.70" fill="#333" font-weight="bold" text-anchor="end" stroke="#333" stroke-width="0.35" >0</text>
<text x="291.20" y="23.80" font-size="5.70" fill="#333" font-weight="bold" text-anchor="end" stroke="#333" stroke-width="0.35" >10</text>
<text x="291.20" y="31.30" font-size="5.70" fill="#333" font-weight="bold" text-anchor="end" stroke="#333" stroke-width="0.35" >20</text>
<text x="291.20" y="38.80" font-size="5.70" fill="#333" font-weight="bold" text-anchor="end" stroke="#333" stroke-width="0.35" >30</text>
<text x="291.20" y="46.30" font-size="5.70" fill="#333" font-weight="bold" text-anchor="end" stroke="#333" stroke-width="0.35" >40</text>
<text x="291.20" y="53.80" font-size="5.70" fill="#333" font-weight="bold" text-anchor="end" stroke="#333" stroke-width="0.35" >50</text>
<text x="291.20" y="61.30" font-size="5.70" fill="#333" font-weight="bold" text-anchor="end" stroke="#333" stroke-width="0.35" >60</text>
<text x="293.50" y="65.10" font-size="5.70" fill="#333" font-weight="bold" text-anchor="middle" stroke="#333" stroke-width="0.35" >0</text>
<text x="317.70" y="65.10" font-size="5.70" fill="#333" font-weight="bold" text-anchor="middle" stroke="#333" stroke-width="0.35" >2</text>
<text x="341.90" y="65.10" font-size="5.70" fill="#333" font-weight="bold" text-anchor="middle" stroke="#333" stroke-width="0.35" >4</text>
<text x="366.10" y="65.10" font-size="5.70" fill="#333" font-weight="bold" text-anchor="middle" stroke="#333" stroke-width="0.35" >6</text>
<text x="390.30" y="65.10" font-size="5.70" fill="#333" font-weight="bold" text-anchor="middle" stroke="#333" stroke-width="0.35" >8</text>
<text x="414.50" y="65.10" font-size="5.70" fill="#333" font-weight="bold" text-anchor="middle" stroke="#333" stroke-width="0.35" >10</text>
<text x="438.70" y="65.10" font-size="5.70" fill="#333" font-weight="bold" text-anchor="middle" stroke="#333" stroke-width="0.35" >12</text>
<text x="462.90" y="65.10" font-size="5.70" fill="#333" font-weight="bold" text-anchor="middle" stroke="#333" stroke-width="0.35" >14</text>
<text x="487.10" y="65.10" font-size="5.70" fill="#333" font-weight="bold" text-anchor="middle" stroke="#333" stroke-width="0.35" >16</text>
<text x="390.60" y="74.40" font-size="7.70" fill="#111" font-weight="bold" text-anchor="middle" stroke="#111" stroke-width="0.28" >Time (Minutes)</text>
<text transform="translate(279.00,37.80) rotate(-90)" font-size="7.70" fill="#111" font-weight="bold" text-anchor="middle" stroke="#111" stroke-width="0.28" >% Aggregation</text>
<polyline points="293.50,14.30 341.90,14.30 347.95,15.43 354.00,16.18 366.10,16.93 378.20,17.52 390.30,18.05 487.10,18.05" fill="none" stroke="#a4e27a" stroke-width="1.60" stroke-linejoin="round" stroke-linecap="round" />
<polyline points="293.50,14.08 337.06,14.08 341.90,15.65 354.00,18.43 366.10,21.80 378.20,25.18 390.30,28.55 402.40,31.93 414.50,34.17 426.60,36.05 438.70,37.55 450.80,38.45 462.90,39.05 475.00,39.50 487.10,39.80" fill="none" stroke="#e2424f" stroke-width="1.50" stroke-linejoin="round" stroke-linecap="round" />
<line x1="333.50" y1="9.40" x2="333.50" y2="16.20" stroke="#9a2a3a" stroke-width="0.90" />
<text x="298.34" y="19.60" font-size="5.00" fill="#7a7a20" font-weight="bold" text-anchor="middle" stroke="#7a7a20" stroke-width="0.28" >1</text>
<text x="316.49" y="19.60" font-size="5.00" fill="#7a7a20" font-weight="bold" text-anchor="middle" stroke="#7a7a20" stroke-width="0.28" >1</text>
<text x="366.10" y="27.40" font-size="5.00" fill="#c83040" font-weight="bold" text-anchor="middle" stroke="#c83040" stroke-width="0.28" >1</text>
<text x="389.09" y="35.30" font-size="5.00" fill="#c83040" font-weight="bold" text-anchor="middle" stroke="#c83040" stroke-width="0.28" >1</text>
<text x="413.29" y="39.30" font-size="5.00" fill="#c83040" font-weight="bold" text-anchor="middle" stroke="#c83040" stroke-width="0.28" >1</text>
<text x="438.70" y="42.40" font-size="5.00" fill="#c83040" font-weight="bold" text-anchor="middle" stroke="#c83040" stroke-width="0.28" >1</text>
<text x="462.90" y="43.60" font-size="5.00" fill="#c83040" font-weight="bold" text-anchor="middle" stroke="#c83040" stroke-width="0.28" >1</text>
<text x="487.10" y="44.60" font-size="5.00" fill="#c83040" font-weight="bold" text-anchor="middle" stroke="#c83040" stroke-width="0.28" >1</text>
<text x="341.90" y="21.20" font-size="5.00" fill="#78c840" font-weight="bold" text-anchor="middle" stroke="#78c840" stroke-width="0.28" >2</text>
<text x="389.09" y="23.70" font-size="5.00" fill="#78c840" font-weight="bold" text-anchor="middle" stroke="#78c840" stroke-width="0.28" >2</text>
<text x="413.29" y="23.70" font-size="5.00" fill="#78c840" font-weight="bold" text-anchor="middle" stroke="#78c840" stroke-width="0.28" >2</text>
<text x="438.70" y="23.70" font-size="5.00" fill="#78c840" font-weight="bold" text-anchor="middle" stroke="#78c840" stroke-width="0.28" >2</text>
<text x="462.90" y="25.00" font-size="5.00" fill="#78c840" font-weight="bold" text-anchor="middle" stroke="#78c840" stroke-width="0.28" >2</text>
<text x="487.10" y="25.00" font-size="5.00" fill="#78c840" font-weight="bold" text-anchor="middle" stroke="#78c840" stroke-width="0.28" >2</text>
<text x="497.40" y="22.40" font-size="7.50" fill="#6e9a62" font-weight="bold" text-anchor="start" stroke="#6e9a62" stroke-width="0.10" letter-spacing="0.45">- / -</text>
<text x="489.00" y="42.90" font-size="7.20" fill="#e8203a" font-weight="bold" text-anchor="start" stroke="#e8203a" stroke-width="0.28" >Mouse A</text>
<text x="263.30" y="81.60" font-size="12.00" fill="#000" font-weight="bold" text-anchor="start" stroke="#000" stroke-width="0.28" >E</text>
<line x1="295.50" y1="82.40" x2="496.20" y2="82.40" stroke="#222" stroke-width="1.30" />
<line x1="495.50" y1="82.40" x2="495.50" y2="190.90" stroke="#222" stroke-width="1.40" />
<line x1="296.20" y1="82.40" x2="296.20" y2="191.60" stroke="#333" stroke-width="1.60" />
<line x1="295.50" y1="190.90" x2="496.20" y2="190.90" stroke="#333" stroke-width="1.60" />
<line x1="292.90" y1="190.90" x2="296.20" y2="190.90" stroke="#333" stroke-width="1.10" />
<text x="292.20" y="193.30" font-size="7.00" fill="#222" font-weight="bold" text-anchor="end" stroke="#222" stroke-width="0.28" >0</text>
<line x1="293.60" y1="180.05" x2="296.20" y2="180.05" stroke="#333" stroke-width="1.00" />
<line x1="292.90" y1="169.20" x2="296.20" y2="169.20" stroke="#333" stroke-width="1.10" />
<text x="292.20" y="171.60" font-size="7.00" fill="#222" font-weight="bold" text-anchor="end" stroke="#222" stroke-width="0.28" >1</text>
<line x1="293.60" y1="158.35" x2="296.20" y2="158.35" stroke="#333" stroke-width="1.00" />
<line x1="292.90" y1="147.50" x2="296.20" y2="147.50" stroke="#333" stroke-width="1.10" />
<text x="292.20" y="149.90" font-size="7.00" fill="#222" font-weight="bold" text-anchor="end" stroke="#222" stroke-width="0.28" >2</text>
<line x1="293.60" y1="136.65" x2="296.20" y2="136.65" stroke="#333" stroke-width="1.00" />
<line x1="292.90" y1="125.80" x2="296.20" y2="125.80" stroke="#333" stroke-width="1.10" />
<text x="292.20" y="128.20" font-size="7.00" fill="#222" font-weight="bold" text-anchor="end" stroke="#222" stroke-width="0.28" >3</text>
<line x1="293.60" y1="114.95" x2="296.20" y2="114.95" stroke="#333" stroke-width="1.00" />
<line x1="292.90" y1="104.10" x2="296.20" y2="104.10" stroke="#333" stroke-width="1.10" />
<text x="292.20" y="106.50" font-size="7.00" fill="#222" font-weight="bold" text-anchor="end" stroke="#222" stroke-width="0.28" >4</text>
<line x1="293.60" y1="93.25" x2="296.20" y2="93.25" stroke="#333" stroke-width="1.00" />
<line x1="292.90" y1="82.40" x2="296.20" y2="82.40" stroke="#333" stroke-width="1.10" />
<text x="292.20" y="84.80" font-size="7.00" fill="#222" font-weight="bold" text-anchor="end" stroke="#222" stroke-width="0.28" >5</text>
<line x1="296.20" y1="190.90" x2="296.20" y2="193.90" stroke="#333" stroke-width="1.10" />
<text x="296.20" y="201.60" font-size="7.00" fill="#222" font-weight="bold" text-anchor="middle" stroke="#222" stroke-width="0.28" >0</text>
<line x1="324.67" y1="190.90" x2="324.67" y2="193.90" stroke="#333" stroke-width="1.10" />
<text x="324.67" y="201.60" font-size="7.00" fill="#222" font-weight="bold" text-anchor="middle" stroke="#222" stroke-width="0.28" >5</text>
<line x1="353.14" y1="190.90" x2="353.14" y2="193.90" stroke="#333" stroke-width="1.10" />
<text x="353.14" y="201.60" font-size="7.00" fill="#222" font-weight="bold" text-anchor="middle" stroke="#222" stroke-width="0.28" >10</text>
<line x1="381.61" y1="190.90" x2="381.61" y2="193.90" stroke="#333" stroke-width="1.10" />
<text x="381.61" y="201.60" font-size="7.00" fill="#222" font-weight="bold" text-anchor="middle" stroke="#222" stroke-width="0.28" >15</text>
<line x1="410.09" y1="190.90" x2="410.09" y2="193.90" stroke="#333" stroke-width="1.10" />
<text x="410.09" y="201.60" font-size="7.00" fill="#222" font-weight="bold" text-anchor="middle" stroke="#222" stroke-width="0.28" >20</text>
<line x1="438.56" y1="190.90" x2="438.56" y2="193.90" stroke="#333" stroke-width="1.10" />
<text x="438.56" y="201.60" font-size="7.00" fill="#222" font-weight="bold" text-anchor="middle" stroke="#222" stroke-width="0.28" >25</text>
<line x1="467.03" y1="190.90" x2="467.03" y2="193.90" stroke="#333" stroke-width="1.10" />
<text x="467.03" y="201.60" font-size="7.00" fill="#222" font-weight="bold" text-anchor="middle" stroke="#222" stroke-width="0.28" >30</text>
<line x1="495.50" y1="190.90" x2="495.50" y2="193.90" stroke="#333" stroke-width="1.10" />
<text x="495.50" y="201.60" font-size="7.00" fill="#222" font-weight="bold" text-anchor="middle" stroke="#222" stroke-width="0.28" >35</text>
<text x="394.60" y="209.90" font-size="8.00" fill="#111" font-weight="bold" text-anchor="middle" stroke="#111" stroke-width="0.28" >Time (Weeks After Transplant)</text>
<text transform="translate(278.00,139.70) rotate(-90)" font-size="8.05" fill="#111" font-weight="bold" text-anchor="middle" stroke="#111" stroke-width="0.28" >Level of αIIbβ3 Expression</text>
<text transform="translate(285.70,139.70) rotate(-90)" font-size="8.05" fill="#111" font-weight="bold" text-anchor="middle" stroke="#111" stroke-width="0.28" >MFI Ratio (Mouse : β3-/- Control)</text>
<polyline points="324.67,134.48 357.13,125.80 387.31,137.74 410.09,136.65 438.56,140.99 478.42,143.16" fill="none" stroke="#b845ee" stroke-width="1.10" stroke-linejoin="round" stroke-linecap="round" />
<circle cx="324.67" cy="134.48" r="2.24" fill="#b845ee"/>
<circle cx="357.13" cy="125.80" r="2.24" fill="#b845ee"/>
<circle cx="387.31" cy="137.74" r="2.24" fill="#b845ee"/>
<circle cx="410.09" cy="136.65" r="2.24" fill="#b845ee"/>
<circle cx="438.56" cy="140.99" r="2.24" fill="#b845ee"/>
<circle cx="478.42" cy="143.16" r="2.24" fill="#b845ee"/>
<polyline points="313.28,149.67 318.98,149.67 324.67,154.01 357.13,154.01 387.31,156.18 410.09,151.84 438.56,149.67 478.42,156.18" fill="none" stroke="#2444dc" stroke-width="1.10" stroke-linejoin="round" stroke-linecap="round" />
<polygon points="313.28,147.21 310.93,151.35 315.63,151.35" fill="#2444dc"/>
<polygon points="318.98,147.21 316.63,151.35 321.33,151.35" fill="#2444dc"/>
<polygon points="324.67,151.55 322.32,155.69 327.02,155.69" fill="#2444dc"/>
<polygon points="357.13,151.55 354.78,155.69 359.48,155.69" fill="#2444dc"/>
<polygon points="387.31,153.72 384.96,157.86 389.66,157.86" fill="#2444dc"/>
<polygon points="410.09,149.38 407.73,153.52 412.44,153.52" fill="#2444dc"/>
<polygon points="438.56,147.21 436.21,151.35 440.91,151.35" fill="#2444dc"/>
<polygon points="478.42,153.72 476.07,157.86 480.77,157.86" fill="#2444dc"/>
<polyline points="313.28,167.03 324.67,167.03 355.99,164.86 355.99,167.03 357.13,151.84 364.53,164.86 387.31,136.65 410.09,121.46 438.56,130.14 478.42,121.46" fill="none" stroke="#e8202a" stroke-width="1.10" stroke-linejoin="round" stroke-linecap="round" />
<rect x="311.38" y="165.13" width="3.81" height="3.81" fill="#e8202a"/>
<rect x="322.77" y="165.13" width="3.81" height="3.81" fill="#e8202a"/>
<rect x="354.09" y="162.96" width="3.81" height="3.81" fill="#e8202a"/>
<rect x="354.09" y="165.13" width="3.81" height="3.81" fill="#e8202a"/>
<rect x="355.22" y="149.94" width="3.81" height="3.81" fill="#e8202a"/>
<rect x="362.63" y="162.96" width="3.81" height="3.81" fill="#e8202a"/>
<rect x="385.40" y="134.75" width="3.81" height="3.81" fill="#e8202a"/>
<rect x="408.18" y="119.56" width="3.81" height="3.81" fill="#e8202a"/>
<rect x="436.65" y="128.24" width="3.81" height="3.81" fill="#e8202a"/>
<rect x="476.51" y="119.56" width="3.81" height="3.81" fill="#e8202a"/>
<polyline points="313.28,138.82 318.98,145.33 324.67,151.84" fill="none" stroke="#000000" stroke-width="1.10" stroke-linejoin="round" stroke-linecap="round" />
<polygon points="313.28,136.24 315.86,138.82 313.28,141.40 310.71,138.82" fill="#000000"/>
<polygon points="318.98,142.75 321.55,145.33 318.98,147.91 316.40,145.33" fill="#000000"/>
<polygon points="324.67,149.26 327.25,151.84 324.67,154.42 322.10,151.84" fill="#000000"/>
<rect x="298.1" y="84.3" width="28.5" height="39.4" fill="#fff" stroke="#111" stroke-width="1.3"/>
<text x="301.20" y="89.40" font-size="6.20" fill="#1a0a10" font-weight="bold" text-anchor="start" stroke="#1a0a10" stroke-width="0.28" >Mouse</text>
<line x1="302.40" y1="92.50" x2="316.40" y2="92.50" stroke="#e8202a" stroke-width="1.10" />
<circle cx="309.20" cy="92.50" r="2.20" fill="#e8202a"/>
<text x="317.20" y="94.80" font-size="6.60" fill="#111" font-weight="bold" text-anchor="start" stroke="#111" stroke-width="0.28" >A</text>
<line x1="302.40" y1="100.30" x2="316.40" y2="100.30" stroke="#2444dc" stroke-width="1.10" />
<polygon points="309.20,98.10 307.10,101.80 311.30,101.80" fill="#2444dc"/>
<text x="317.20" y="102.60" font-size="6.60" fill="#111" font-weight="bold" text-anchor="start" stroke="#111" stroke-width="0.28" >B</text>
<line x1="302.40" y1="107.60" x2="316.40" y2="107.60" stroke="#000000" stroke-width="1.10" />
<polygon points="309.20,105.30 311.50,107.60 309.20,109.90 306.90,107.60" fill="#000000"/>
<text x="317.20" y="109.90" font-size="6.60" fill="#111" font-weight="bold" text-anchor="start" stroke="#111" stroke-width="0.28" >C</text>
<line x1="302.40" y1="115.50" x2="316.40" y2="115.50" stroke="#b845ee" stroke-width="1.10" />
<circle cx="309.20" cy="115.50" r="2.00" fill="#b845ee"/>
<text x="317.20" y="117.80" font-size="6.60" fill="#111" font-weight="bold" text-anchor="start" stroke="#111" stroke-width="0.28" >D</text>
</svg>
</body></html>
